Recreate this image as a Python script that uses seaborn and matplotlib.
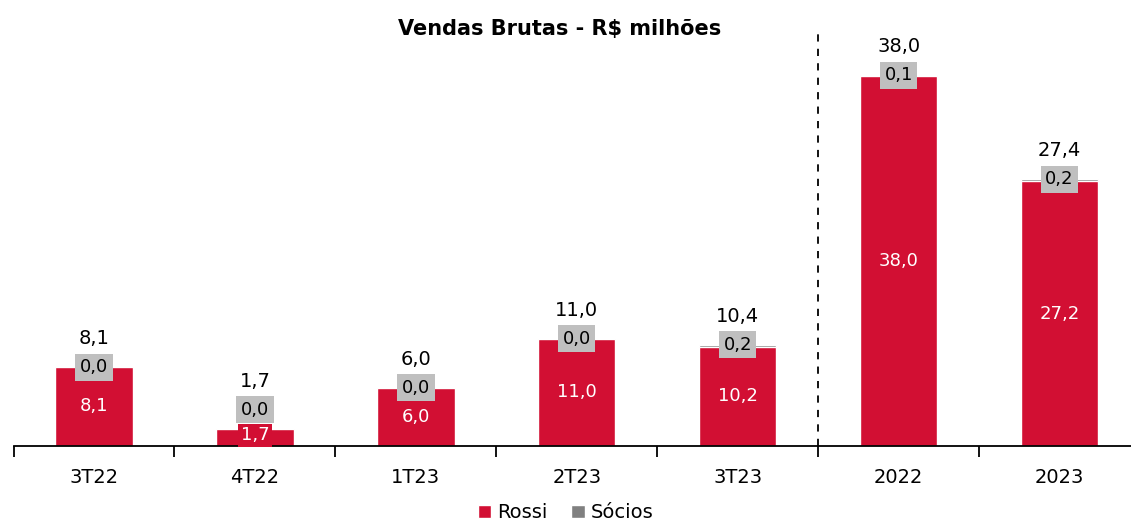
import numpy as np
import pandas as pd
import matplotlib
matplotlib.use("Agg")
import matplotlib.pyplot as plt
import seaborn as sns

# dados
periodos = ["3T22", "4T22", "1T23", "2T23", "3T23", "2022", "2023"]
rossi = [8.1, 1.7, 6.0, 11.0, 10.2, 38.0, 27.2]
socios = [0.0, 0.0, 0.0, 0.0, 0.2, 0.1, 0.2]
totais = [8.1, 1.7, 6.0, 11.0, 10.4, 38.0, 27.4]

vermelho = "#D20F33"
cinza = "#808080"
cinza_claro = "#BFBFBF"

def fmt(v):
    return f"{v:.1f}".replace(".", ",")

df = pd.DataFrame({"periodo": periodos, "rossi": rossi, "socios": socios})
df["empilhado"] = df["rossi"] + df["socios"]

sns.set_style("white")
plt.rcParams["font.family"] = ["DejaVu Sans"]
plt.rcParams["text.color"] = "black"
plt.rcParams["xtick.color"] = "black"

fig = plt.figure(figsize=(11.31, 5.24), dpi=100)
ax = fig.add_axes([0.012, 0.149, 0.996, 0.836])

sns.barplot(data=df, x="periodo", y="empilhado", color=cinza, width=0.48,
            saturation=1, ax=ax, label="Sócios")
sns.barplot(data=df, x="periodo", y="rossi", color=vermelho, width=0.48,
            saturation=1, ax=ax, label="Rossi")
handles, labels = ax.get_legend_handles_labels()
if ax.get_legend() is not None:
    ax.get_legend().remove()

for i in range(len(periodos)):
    # rótulo Rossi
    y_r = max(rossi[i] / 2, 1.1)
    box = None
    if rossi[i] < 3:
        box = dict(boxstyle="square,pad=0.15", fc=vermelho, ec="none")
    ax.text(i, y_r, fmt(rossi[i]), ha="center", va="center", color="white",
            fontsize=13, bbox=box)
    # rótulo Sócios
    top = rossi[i] + socios[i]
    y_s = max(top, 3.7)
    ax.text(i, y_s, fmt(socios[i]), ha="center", va="center", color="black",
            fontsize=13,
            bbox=dict(boxstyle="square,pad=0.25", fc=cinza_claro, ec="none"))
    # total
    ax.text(i, y_s + 2.9, fmt(totais[i]), ha="center", va="center",
            color="black", fontsize=14)

ax.set_ylim(0, 45)
ax.set_xlim(-0.5, len(periodos) - 0.5)
ax.set_xlabel("")
ax.set_ylabel("")
ax.set_yticks([])
for s in ["top", "right", "left"]:
    ax.spines[s].set_visible(False)
ax.spines["bottom"].set_color("black")
ax.spines["bottom"].set_linewidth(1.3)

ax.set_xticks(np.arange(len(periodos)))
ax.set_xticklabels(periodos, fontsize=14)
ax.tick_params(axis="x", which="major", length=0, pad=16)
ax.set_xticks(np.arange(len(periodos) + 1) - 0.5, minor=True)
ax.tick_params(axis="x", which="both", bottom=True)
ax.tick_params(axis="x", which="minor", length=8, width=1.3, color="black",
               direction="out")

# separador entre trimestres e anos
ax.axvline(4.5, ymin=0, ymax=0.94, color="black", linestyle=(0, (4, 4)),
           linewidth=1.3)

ax.set_title("Vendas Brutas - R$ milhões", fontsize=15, fontweight="bold",
             y=0.92, x=0.485, color="black")

order = [labels.index("Rossi"), labels.index("Sócios")]
fig.legend([handles[k] for k in order], [labels[k] for k in order],
           loc="lower center", bbox_to_anchor=(0.5, -0.03), ncol=2,
           frameon=False, fontsize=14, handlelength=0.7, handleheight=0.7,
           handletextpad=0.3, columnspacing=1.2)

fig.savefig("out.png", dpi=100)
